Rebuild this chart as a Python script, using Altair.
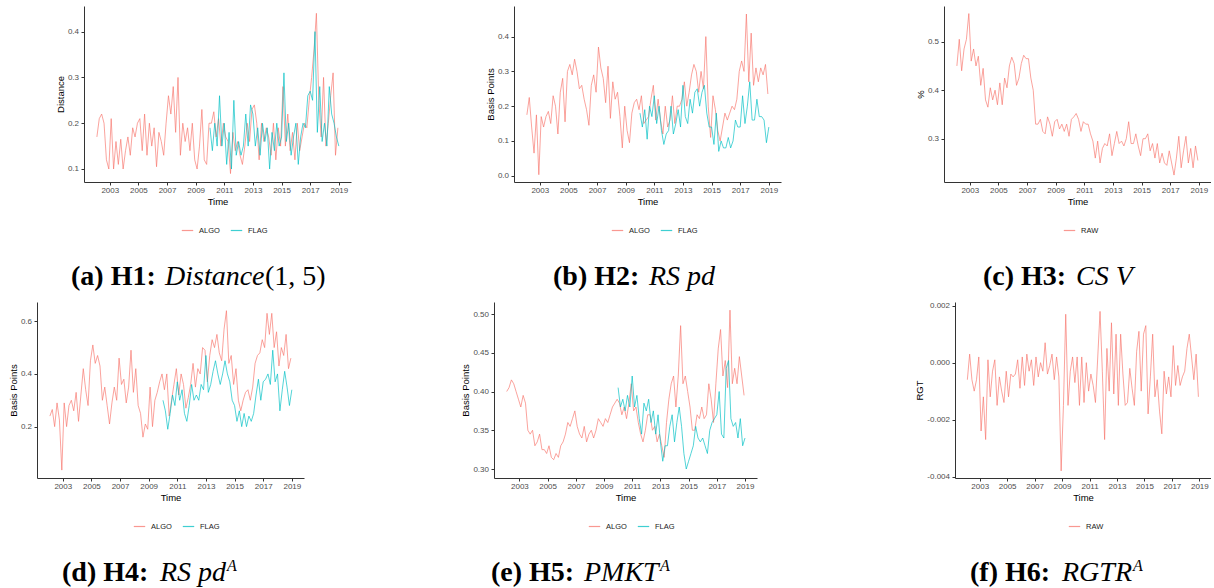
import altair as alt
import pandas as pd

# ---------------- data ----------------
YEAR_TICKS = [2003, 2005, 2007, 2009, 2011, 2013, 2015, 2017, 2019]
X_DOMAIN = [2001.2, 2019.85]
ALGO_START = 2002.1     # first observation of the full-length series
FLAG_START = 2010.0     # first observation of the FLAG series
STEP = 1 / 6            # two-month sampling

H1_ALGO = [0.17, 0.21, 0.22, 0.2, 0.12, 0.10,
           0.21, 0.10, 0.16, 0.11, 0.165, 0.10,
           0.14, 0.17, 0.13, 0.19, 0.17, 0.2,
           0.21, 0.14, 0.22, 0.13, 0.2, 0.15,
           0.19, 0.105, 0.18, 0.16, 0.13, 0.2,
           0.26, 0.22, 0.28, 0.18, 0.30, 0.13,
           0.2, 0.16, 0.19, 0.14, 0.2, 0.12,
           0.1, 0.15, 0.23, 0.12, 0.11, 0.2,
           0.2, 0.225, 0.17, 0.21, 0.15, 0.2,
           0.17, 0.16, 0.09, 0.18, 0.14, 0.16,
           0.13, 0.11, 0.15, 0.2, 0.16, 0.23,
           0.24, 0.2, 0.12, 0.2, 0.16, 0.19,
           0.17, 0.13, 0.2, 0.12, 0.19, 0.15,
           0.28, 0.15, 0.22, 0.14, 0.18, 0.12,
           0.2, 0.14, 0.17, 0.2, 0.19, 0.25,
           0.3, 0.36, 0.44, 0.25, 0.17, 0.3,
           0.15, 0.2, 0.26, 0.31, 0.13, 0.19]
H1_FLAG = [0.19, 0.14, 0.2, 0.15, 0.26, 0.15,
           0.2, 0.11, 0.18, 0.1, 0.25, 0.13,
           0.16, 0.13, 0.15, 0.22, 0.15, 0.24,
           0.22, 0.15, 0.19, 0.13, 0.2, 0.16,
           0.19, 0.1, 0.18, 0.14, 0.2, 0.15,
           0.17, 0.31, 0.16, 0.2, 0.13, 0.17,
           0.2, 0.11, 0.17, 0.2, 0.19, 0.26,
           0.27, 0.25, 0.4, 0.18, 0.28, 0.16,
           0.2, 0.15, 0.28, 0.22, 0.2, 0.17,
           0.15]

H2_ALGO = [0.175, 0.225, 0.14, 0.065, 0.175, 0.003,
           0.17, 0.14, 0.17, 0.185, 0.15, 0.23,
           0.2, 0.12, 0.24, 0.28, 0.155, 0.3,
           0.32, 0.29, 0.335, 0.3, 0.25, 0.26,
           0.22, 0.19, 0.145, 0.26, 0.29, 0.24,
           0.37, 0.31, 0.28, 0.21, 0.315, 0.165,
           0.27, 0.22, 0.24, 0.17, 0.08, 0.2,
           0.13, 0.095, 0.18, 0.21, 0.22, 0.19,
           0.23, 0.15, 0.16, 0.17, 0.22, 0.26,
           0.16, 0.22, 0.16, 0.12, 0.2, 0.14,
           0.16, 0.23, 0.15, 0.2, 0.2, 0.22,
           0.27, 0.2, 0.24, 0.29, 0.32, 0.3,
           0.24, 0.3, 0.25, 0.4, 0.2, 0.11,
           0.23, 0.19, 0.13, 0.1, 0.14, 0.18,
           0.16, 0.18, 0.2, 0.19, 0.22, 0.3,
           0.33, 0.3, 0.465, 0.27, 0.41, 0.26,
           0.31, 0.27, 0.31, 0.29, 0.32, 0.235]
H2_FLAG = [0.18, 0.14, 0.19, 0.105, 0.2, 0.17,
           0.23, 0.15, 0.2, 0.13, 0.09, 0.12,
           0.13, 0.2, 0.12, 0.15, 0.19, 0.14,
           0.26, 0.17, 0.15, 0.22, 0.18, 0.24,
           0.25, 0.2, 0.24, 0.26, 0.18, 0.14,
           0.14, 0.09, 0.18, 0.07, 0.1, 0.08,
           0.08, 0.11, 0.08, 0.1, 0.16, 0.14,
           0.14, 0.23, 0.15, 0.2, 0.27, 0.16,
           0.16, 0.22, 0.17, 0.17, 0.16, 0.095,
           0.14]

H3_RAW = [0.45, 0.505, 0.44, 0.485, 0.505, 0.558,
          0.46, 0.485, 0.45, 0.47, 0.41, 0.445,
          0.38, 0.365, 0.405, 0.38, 0.4, 0.37,
          0.415, 0.37, 0.425, 0.405, 0.45, 0.468,
          0.455, 0.41, 0.425, 0.455, 0.472, 0.465,
          0.465, 0.425, 0.4, 0.33, 0.33, 0.34,
          0.315, 0.31, 0.345, 0.33, 0.305, 0.335,
          0.34, 0.32, 0.33, 0.315, 0.33, 0.305,
          0.34, 0.345, 0.352, 0.34, 0.315, 0.335,
          0.33, 0.33, 0.31, 0.295, 0.26, 0.295,
          0.25, 0.28, 0.29, 0.285, 0.31, 0.265,
          0.29, 0.315, 0.29, 0.295, 0.285, 0.3,
          0.335, 0.29, 0.29, 0.31, 0.285, 0.265,
          0.3, 0.3, 0.31, 0.275, 0.29, 0.26,
          0.29, 0.25, 0.27, 0.25, 0.245, 0.275,
          0.25, 0.225, 0.26, 0.305, 0.24, 0.275,
          0.305, 0.25, 0.28, 0.24, 0.285, 0.255]

H4_ALGO = [0.24, 0.265, 0.2, 0.29, 0.225, 0.035,
           0.29, 0.2, 0.28, 0.3, 0.26, 0.33,
           0.22, 0.32, 0.42, 0.34, 0.28, 0.45,
           0.51, 0.44, 0.47, 0.43, 0.3, 0.35,
           0.28, 0.21, 0.29, 0.35, 0.3, 0.46,
           0.36, 0.38, 0.29, 0.35, 0.49, 0.33,
           0.42, 0.28, 0.25, 0.16, 0.21, 0.19,
           0.35, 0.2, 0.3, 0.33, 0.37, 0.4,
           0.34, 0.4, 0.24, 0.3, 0.36, 0.42,
           0.32, 0.4, 0.36, 0.27, 0.31, 0.36,
           0.44, 0.35, 0.42, 0.4, 0.5, 0.49,
           0.37, 0.47, 0.53, 0.5, 0.55, 0.48,
           0.45, 0.57, 0.64, 0.44, 0.47, 0.36,
           0.42, 0.3, 0.26, 0.3, 0.33, 0.34,
           0.3, 0.35, 0.44, 0.47, 0.48, 0.53,
           0.5, 0.63, 0.55, 0.63, 0.5, 0.56,
           0.43, 0.5, 0.47, 0.55, 0.42, 0.46]
H4_FLAG = [0.3, 0.26, 0.19, 0.25, 0.32, 0.28,
           0.37, 0.3, 0.34, 0.25, 0.22, 0.28,
           0.36, 0.3, 0.32, 0.3, 0.36, 0.34,
           0.47, 0.33, 0.36, 0.41, 0.45, 0.4,
           0.36, 0.4, 0.45, 0.4, 0.37, 0.3,
           0.28, 0.22, 0.26, 0.2, 0.25, 0.2,
           0.24, 0.22, 0.25, 0.32, 0.38, 0.3,
           0.37, 0.38, 0.4, 0.36, 0.49, 0.37,
           0.4, 0.26, 0.34, 0.41, 0.35, 0.28,
           0.34]

H5_ALGO = [0.4, 0.405, 0.415, 0.41, 0.4, 0.39,
           0.38, 0.395, 0.385, 0.35, 0.345, 0.35,
           0.33, 0.335, 0.345, 0.325, 0.325, 0.32,
           0.33, 0.315, 0.312, 0.32, 0.315, 0.33,
           0.335, 0.345, 0.36, 0.355, 0.365, 0.375,
           0.355, 0.345, 0.34, 0.355, 0.335, 0.345,
           0.35, 0.34, 0.35, 0.365, 0.36, 0.355,
           0.365, 0.36, 0.37, 0.38, 0.385, 0.39,
           0.385, 0.37, 0.38, 0.365, 0.385, 0.41,
           0.375, 0.38, 0.36, 0.345, 0.335, 0.35,
           0.37, 0.37, 0.35, 0.355, 0.335, 0.345,
           0.33, 0.315, 0.36, 0.39, 0.41, 0.42,
           0.38, 0.42, 0.485, 0.41, 0.42, 0.4,
           0.38, 0.35, 0.35, 0.37, 0.365, 0.38,
           0.365, 0.37, 0.41, 0.39, 0.36, 0.41,
           0.455, 0.48, 0.42, 0.44, 0.405, 0.505,
           0.41, 0.43, 0.41, 0.445, 0.42, 0.395]
H5_FLAG = [0.405, 0.38, 0.39, 0.375, 0.395, 0.38,
           0.42, 0.38, 0.395, 0.365, 0.345, 0.385,
           0.375, 0.39, 0.36, 0.375, 0.345, 0.37,
           0.335, 0.31, 0.33, 0.33, 0.355, 0.37,
           0.335, 0.36, 0.38, 0.355, 0.32, 0.3,
           0.31, 0.32, 0.33, 0.355, 0.34, 0.335,
           0.34, 0.33, 0.32, 0.35, 0.36, 0.365,
           0.37, 0.4, 0.345, 0.34, 0.43, 0.44,
           0.365, 0.355, 0.36, 0.34, 0.365, 0.33,
           0.34]

H6_RAW = [-0.0006, 0.0003, -0.0006, -0.0010, -0.0006, 0.0002,
          -0.0024, -0.0012, -0.0027, 0.0001, -0.0012, -0.0003,
          0.0001, -0.0015, -0.0005, -0.0010, -0.0014, -0.0003,
          -0.0012, -0.0004, -0.0005, -0.0004, 0.0001, -0.0009,
          0.0002, -0.0008, 0.0003, -0.0003, 0.0001, -0.0008,
          0.0002, -0.0005, 0.0000, -0.0003, 0.0007, -0.0004,
          -0.0001, 0.0003, -0.0006, 0.0002, -0.0005, -0.0038,
          -0.0015, 0.0017, -0.0015, -0.0003, 0.0002, -0.0007,
          0.0002, -0.0015, 0.0002, -0.0014, 0.0000, -0.0010,
          -0.0004, -0.0008, -0.0014, 0.0002, 0.0018, -0.0003,
          -0.0027, 0.0005, -0.0010, 0.0014, -0.0011, 0.0010,
          -0.0015, 0.0010, -0.0004, -0.0015, -0.0014, -0.0002,
          -0.0009, -0.0015, 0.0004, 0.0011, -0.0010, 0.0010,
          0.0013, -0.0018, -0.0005, 0.0010, -0.0012, -0.0006,
          -0.0017, -0.0025, -0.0003, -0.0011, -0.0005, -0.0012,
          0.0006, -0.0008, -0.0001, -0.0008, -0.0005, -0.0003,
          0.0005, 0.0010, 0.0002, -0.0006, 0.0003, -0.0012]

RED, CYAN = "#F8766D", "#00BFC4"
HEIGHT = 176
COL_W = [317, 292, 292]

AXIS_COMMON = dict(labelFont="Liberation Sans", labelFontSize=8, labelColor="#4D4D4D",
                   titleFont="Liberation Sans", titleFontSize=9.5, titleFontWeight="normal",
                   titleColor="#000000", domainColor="#333333", tickColor="#333333",
                   tickSize=3, grid=False, domainWidth=1, tickWidth=1)


def series_frame(series):
    rows = []
    for name, start, vals in series:
        for i, v in enumerate(vals):
            rows.append({"t": round(start + i * STEP, 4), "v": v, "s": name})
    return pd.DataFrame(rows)


def text_layer(txt, x, y, size, weight, style):
    return alt.Chart(pd.DataFrame({"c": [txt]})).mark_text(
        align="left", baseline="alphabetic", font="Liberation Serif",
        fontSize=size, fontWeight=weight, fontStyle=style, color="#000000"
    ).encode(x=alt.value(x), y=alt.value(y), text="c:N")


def panel(series, colors, y_domain, y_ticks, y_fmt, y_title, r0, pw, width,
          legend_x, caption):
    df = series_frame(series)
    names = [s[0] for s in series]
    label_expr = "replace(format(datum.value, '%s'), '\u2212', '-')" % y_fmt
    lines = alt.Chart(df).mark_line(strokeWidth=0.75, opacity=0.9).encode(
        x=alt.X("t:Q",
                scale=alt.Scale(domain=X_DOMAIN, range=[r0, r0 + pw], nice=False, zero=False),
                axis=alt.Axis(values=YEAR_TICKS, format="d", title="Time",
                              labelPadding=1.5, titlePadding=2, **AXIS_COMMON)),
        y=alt.Y("v:Q",
                scale=alt.Scale(domain=y_domain, nice=False, zero=False),
                axis=alt.Axis(values=y_ticks, labelExpr=label_expr, title=y_title,
                              offset=-r0, labelPadding=2.5, titlePadding=2, **AXIS_COMMON)),
        color=alt.Color("s:N", scale=alt.Scale(domain=names, range=colors), title=None,
                        legend=alt.Legend(orient="none", legendX=legend_x, legendY=218,
                                          direction="horizontal", symbolType="stroke",
                                          symbolSize=130, symbolStrokeWidth=1.2,
                                          symbolOpacity=0.75, labelFont="Liberation Sans",
                                          labelFontSize=7.5, labelColor="#1A1A1A",
                                          labelOffset=5, columnPadding=8, padding=0)),
    )
    texts = [text_layer(*seg) for seg in caption]
    return alt.layer(lines, *texts).properties(width=width, height=HEIGHT)


CAP_Y = 278.5
SUP_Y = 269
CS = 28   # caption font size
SS = 16   # superscript font size

pa = panel([("ALGO", ALGO_START, H1_ALGO), ("FLAG", FLAG_START, H1_FLAG)], [RED, CYAN],
           [0.0716, 0.456], [0.1, 0.2, 0.3, 0.4], ".1f", "Distance", 50, 267, COL_W[0], 147,
           [("(a) H1:", 37, CAP_Y, CS, "bold", "normal"),
            ("Distance", 131, CAP_Y, CS, "normal", "italic"),
            ("(1, 5)", 231, CAP_Y, CS, "normal", "normal")])
pb = panel([("ALGO", ALGO_START, H2_ALGO), ("FLAG", FLAG_START, H2_FLAG)], [RED, CYAN],
           [-0.018, 0.488], [0.0, 0.1, 0.2, 0.3, 0.4], ".1f", "Basis Points", 25, 267,
           COL_W[1], 122,
           [("(b) H2:", 64, CAP_Y, CS, "bold", "normal"),
            ("RS pd", 160, CAP_Y, CS, "normal", "italic")])
pc = panel([("RAW", ALGO_START, H3_RAW)], [RED],
           [0.2107, 0.5736], [0.3, 0.4, 0.5], ".1f", "%", 25, 267, COL_W[2], 144,
           [("(c) H3:", 64, CAP_Y, CS, "bold", "normal"),
            ("CS V", 157, CAP_Y, CS, "normal", "italic")])
pd_ = panel([("ALGO", ALGO_START, H4_ALGO), ("FLAG", FLAG_START, H4_FLAG)], [RED, CYAN],
            [0.005, 0.673], [0.2, 0.4, 0.6], ".1f", "Basis Points", 3, 267, COL_W[0], 99,
            [("(d) H4:", 28, CAP_Y, CS, "bold", "normal"),
             ("RS pd", 126, CAP_Y, CS, "normal", "italic"),
             ("A", 193, SUP_Y, SS, "normal", "italic")])
pe = panel([("ALGO", ALGO_START, H5_ALGO), ("FLAG", FLAG_START, H5_FLAG)], [RED, CYAN],
           [0.2884, 0.5155], [0.30, 0.35, 0.40, 0.45, 0.50], ".2f", "Basis Points", 5, 263,
           COL_W[1], 99,
           [("(e) H5:", 2, CAP_Y, CS, "bold", "normal"),
            ("PMKT", 95, CAP_Y, CS, "normal", "italic"),
            ("A", 171, SUP_Y, SS, "normal", "italic")])
pf = panel([("RAW", ALGO_START, H6_RAW)], [RED],
           [-0.00405, 0.00213], [-0.004, -0.002, 0.0, 0.002], ".3f", "RGT", 36, 256,
           COL_W[2], 149,
           [("(f) H6:", 51, CAP_Y, CS, "bold", "normal"),
            ("RGTR", 143, CAP_Y, CS, "normal", "italic"),
            ("A", 214, SUP_Y, SS, "normal", "italic")])

chart = alt.concat(pa, pb, pc, pd_, pe, pf, columns=3, bounds="flush",
                   spacing={"row": 120, "column": 138}).resolve_scale(
    x="independent", y="independent", color="independent"
).properties(
    padding={"left": 8, "top": 6, "right": 0, "bottom": 0},
    background="white",
).configure_view(stroke=None)

chart.save("out.html", embed_options={"renderer": "svg", "actions": False})
